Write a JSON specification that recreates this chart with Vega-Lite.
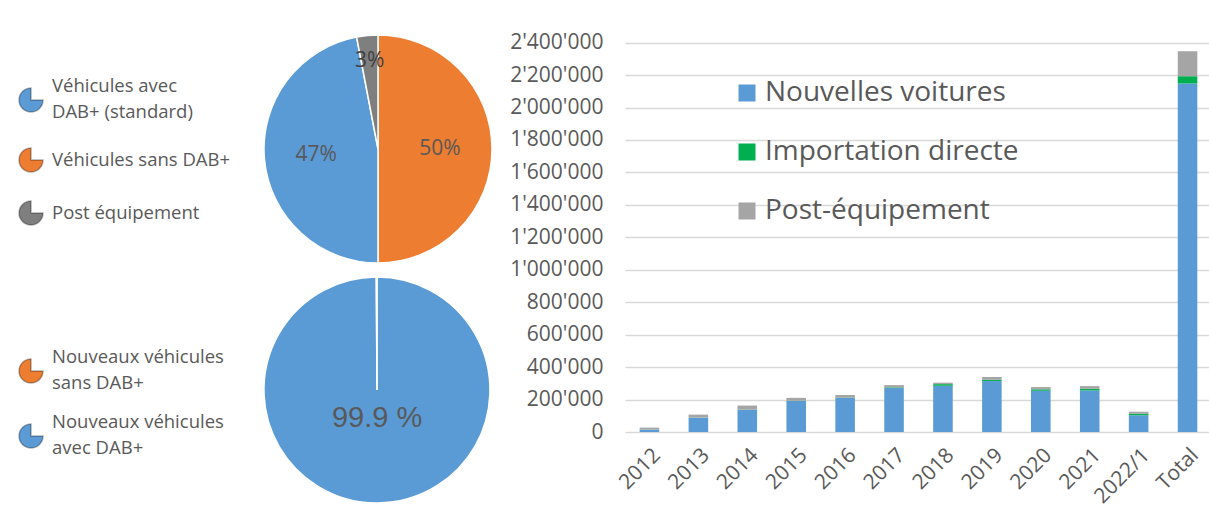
{
  "$schema": "https://vega.github.io/schema/vega-lite/v6.json",
  "background": "white",
  "padding": {"left": 18, "top": 31, "right": 0, "bottom": 0},
  "config": {
    "view": {"stroke": null},
    "font": "Open Sans",
    "style": {"guide-label": {"lineHeight": 26}}
  },
  "spacing": 14,
  "resolve": {"scale": {"color": "independent"}, "legend": {"color": "independent"}},
  "hconcat": [
    {
      "spacing": 8,
      "resolve": {"scale": {"color": "independent"}, "legend": {"color": "independent"}},
      "vconcat": [
        {
          "width": 228,
          "height": 228,
          "data": {"values": [
            {"cat": "Véhicules sans DAB+", "pct": 50, "ord": 1, "label": "50%"},
            {"cat": "Véhicules avec DAB+ (standard)", "pct": 47, "ord": 2, "label": "47%"},
            {"cat": "Post équipement", "pct": 3, "ord": 3, "label": "3%"}
          ]},
          "encoding": {
            "theta": {"field": "pct", "type": "quantitative", "stack": true},
            "order": {"field": "ord", "type": "quantitative"},
            "detail": {"field": "cat", "type": "nominal"}
          },
          "layer": [
            {
              "mark": {"type": "arc", "stroke": "white", "strokeWidth": 1.5},
              "encoding": {
                "color": {
                  "field": "cat", "type": "nominal",
                  "scale": {"domain": ["Véhicules avec DAB+ (standard)", "Véhicules sans DAB+", "Post équipement"], "range": ["#5B9BD5", "#ED7D31", "#7F7F7F"]},
                  "legend": {
                    "orient": "none", "legendX": -246, "legendY": 52, "title": null, "padding": 0,
                    "symbolType": "M0,0L1,0A1,1,0,1,1,0,-1Z", "symbolSize": 576,
                    "symbolStrokeColor": "rgba(0,0,0,0.3)", "symbolStrokeWidth": 1.5,
                    "labelFont": "Open Sans", "labelFontSize": 18.5, "labelColor": "#595959",
                    "labelOffset": 8, "rowPadding": 23, "labelLimit": 400,
                    "labelBaseline": {"expr": "datum.label == 'Véhicules avec DAB+ (standard)' ? 'line-bottom' : 'middle'"},
                    "labelExpr": "datum.label == 'Véhicules avec DAB+ (standard)' ? [slice(datum.label, 0, 14), slice(datum.label, 15)] : datum.label"
                  }
                }
              }
            },
            {
              "mark": {"type": "text", "radius": 62, "fontSize": 21, "color": "#595959", "font": "Open Sans"},
              "encoding": {"text": {"condition": {"test": "datum.ord == 3", "value": ""}, "field": "label"}}
            },
            {
              "mark": {"type": "text", "radius": 88, "fontSize": 21, "color": "#404040", "font": "Open Sans"},
              "encoding": {"text": {"condition": {"test": "datum.ord != 3", "value": ""}, "field": "label"}}
            }
          ]
        },
        {
          "width": 226,
          "height": 226,
          "data": {"values": [
            {"cat": "Nouveaux véhicules avec DAB+", "pct": 99.9, "ord": 1, "label": "99.9 %"},
            {"cat": "Nouveaux véhicules sans DAB+", "pct": 0.1, "ord": 2, "label": ""}
          ]},
          "encoding": {
            "theta": {"field": "pct", "type": "quantitative", "stack": true},
            "order": {"field": "ord", "type": "quantitative"},
            "detail": {"field": "cat", "type": "nominal"}
          },
          "layer": [
            {
              "mark": {"type": "arc", "stroke": "white", "strokeWidth": 1.5},
              "encoding": {
                "color": {
                  "field": "cat", "type": "nominal",
                  "scale": {"domain": ["Nouveaux véhicules sans DAB+", "Nouveaux véhicules avec DAB+"], "range": ["#ED7D31", "#5B9BD5"]},
                  "legend": {
                    "orient": "none", "legendX": -246, "legendY": 81, "title": null, "padding": 0,
                    "symbolType": "M0,0L1,0A1,1,0,1,1,0,-1Z", "symbolSize": 576,
                    "symbolStrokeColor": "rgba(0,0,0,0.3)", "symbolStrokeWidth": 1.5,
                    "labelFont": "Open Sans", "labelFontSize": 18.5, "labelColor": "#595959",
                    "labelOffset": 8, "rowPadding": 20, "labelLimit": 400,
                    "labelBaseline": "line-bottom",
                    "labelExpr": "[slice(datum.label, 0, 18), slice(datum.label, 19)]"
                  }
                }
              }
            },
            {
              "mark": {"type": "text", "radius": 28, "fontSize": 29, "color": "#595959", "font": "Liberation Sans"},
              "encoding": {"text": {"field": "label"}}
            }
          ]
        }
      ]
    },
    {
      "width": 587,
      "height": 397,
      "data": {"values": [
        {"year": "2012", "s": "Nouvelles voitures", "k": 1, "v": 14000},
        {"year": "2012", "s": "Importation directe", "k": 2, "v": 1000},
        {"year": "2012", "s": "Post-équipement", "k": 3, "v": 12000},
        {"year": "2013", "s": "Nouvelles voitures", "k": 1, "v": 88000},
        {"year": "2013", "s": "Importation directe", "k": 2, "v": 1000},
        {"year": "2013", "s": "Post-équipement", "k": 3, "v": 18000},
        {"year": "2014", "s": "Nouvelles voitures", "k": 1, "v": 137000},
        {"year": "2014", "s": "Importation directe", "k": 2, "v": 1000},
        {"year": "2014", "s": "Post-équipement", "k": 3, "v": 25000},
        {"year": "2015", "s": "Nouvelles voitures", "k": 1, "v": 191000},
        {"year": "2015", "s": "Importation directe", "k": 2, "v": 1500},
        {"year": "2015", "s": "Post-équipement", "k": 3, "v": 18000},
        {"year": "2016", "s": "Nouvelles voitures", "k": 1, "v": 210000},
        {"year": "2016", "s": "Importation directe", "k": 2, "v": 2000},
        {"year": "2016", "s": "Post-équipement", "k": 3, "v": 16000},
        {"year": "2017", "s": "Nouvelles voitures", "k": 1, "v": 271000},
        {"year": "2017", "s": "Importation directe", "k": 2, "v": 4000},
        {"year": "2017", "s": "Post-équipement", "k": 3, "v": 14000},
        {"year": "2018", "s": "Nouvelles voitures", "k": 1, "v": 285000},
        {"year": "2018", "s": "Importation directe", "k": 2, "v": 10000},
        {"year": "2018", "s": "Post-équipement", "k": 3, "v": 9000},
        {"year": "2019", "s": "Nouvelles voitures", "k": 1, "v": 314000},
        {"year": "2019", "s": "Importation directe", "k": 2, "v": 8000},
        {"year": "2019", "s": "Post-équipement", "k": 3, "v": 17000},
        {"year": "2020", "s": "Nouvelles voitures", "k": 1, "v": 254000},
        {"year": "2020", "s": "Importation directe", "k": 2, "v": 9000},
        {"year": "2020", "s": "Post-équipement", "k": 3, "v": 14000},
        {"year": "2021", "s": "Nouvelles voitures", "k": 1, "v": 256000},
        {"year": "2021", "s": "Importation directe", "k": 2, "v": 10000},
        {"year": "2021", "s": "Post-équipement", "k": 3, "v": 17000},
        {"year": "2022/1", "s": "Nouvelles voitures", "k": 1, "v": 104000},
        {"year": "2022/1", "s": "Importation directe", "k": 2, "v": 9000},
        {"year": "2022/1", "s": "Post-équipement", "k": 3, "v": 12000},
        {"year": "Total", "s": "Nouvelles voitures", "k": 1, "v": 2148000},
        {"year": "Total", "s": "Importation directe", "k": 2, "v": 45000},
        {"year": "Total", "s": "Post-équipement", "k": 3, "v": 154000}
      ]},
      "mark": {"type": "bar"},
      "encoding": {
        "x": {
          "field": "year", "type": "nominal", "sort": null,
          "scale": {"paddingInner": 0.6, "paddingOuter": 0.3},
          "axis": {"title": null, "labelAngle": -45, "labelFontSize": 21, "labelColor": "#595959", "ticks": false, "domain": false, "labelPadding": 12}
        },
        "y": {
          "field": "v", "type": "quantitative", "stack": "zero",
          "scale": {"domain": [0, 2447000], "nice": false},
          "axis": {
            "title": null,
            "values": [0, 200000, 400000, 600000, 800000, 1000000, 1200000, 1400000, 1600000, 1800000, 2000000, 2200000, 2400000],
            "labelExpr": "replace(format(datum.value, ','), regexp(',', 'g'), \"'\")",
            "labelFontSize": 21, "labelColor": "#595959", "domain": false, "ticks": false, "labelPadding": 22,
            "gridColor": "#D9D9D9", "gridWidth": 1.5
          }
        },
        "color": {
          "field": "s", "type": "nominal",
          "scale": {"domain": ["Nouvelles voitures", "Importation directe", "Post-équipement"], "range": ["#5B9BD5", "#00B050", "#A5A5A5"]},
          "legend": {
            "orient": "none", "legendX": 108, "legendY": 44, "title": null, "padding": 0,
            "symbolType": "square", "symbolSize": 289, "symbolStrokeWidth": 0,
            "labelFont": "Open Sans", "labelFontSize": 28, "labelColor": "#595959",
            "labelOffset": 4, "rowPadding": 31, "labelLimit": 500
          }
        },
        "order": {"field": "k", "type": "quantitative"}
      }
    }
  ]
}
